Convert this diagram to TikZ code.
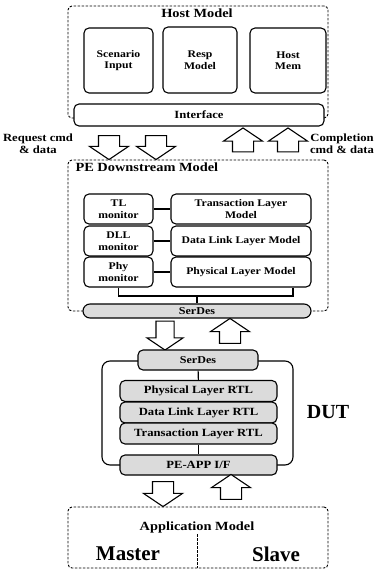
\documentclass[tikz,border=0pt]{standalone}
\usepackage{fontspec}
\setmainfont{Liberation Serif}
\newfontfamily\widefont{Liberation Serif}[FakeStretch=1.15]
\usetikzlibrary{shapes.arrows}
\begin{document}
\begin{tikzpicture}[x=1pt,y=-1pt,
  model/.style={draw, dashed, line width=0.9pt, dash pattern=on 2.5pt off 1.5pt, rounded corners=4pt},
  blk/.style={draw, line width=1.1pt, rounded corners=5pt, fill=white, align=center, inner sep=1pt, font=\widefont\bfseries\fontsize{10.2}{11.5}\selectfont},
  rtl/.style={blk, fill=gray!28, font=\widefont\bfseries\fontsize{11}{12}\selectfont},
  bigarrow/.style={single arrow, draw, line width=1.1pt, fill=white, inner xsep=0pt, inner ysep=10pt, single arrow head extend=9pt, single arrow tip angle=112, minimum height=24pt},
  lbl/.style={align=center, font=\widefont\bfseries\fontsize{11}{12}\selectfont},
  ttl/.style={font=\widefont\bfseries\fontsize{12.5}{14}\selectfont}]
\useasboundingbox (0,0) rectangle (377,572);
\node[model, minimum width=260pt, minimum height=112pt] (host) at (198,62){};
\node[ttl] (hostttl) at (197,13){Host Model};
\node[blk, minimum width=69pt, minimum height=65pt] (scen) at (118.5,60.5){Scenario\\Input};
\node[blk, minimum width=74pt, minimum height=66pt] (resp) at (200,60){Resp\\Model};
\node[blk, minimum width=76pt, minimum height=65pt] (hmem) at (288,60.5){Host\\Mem};
\node[blk, minimum width=250pt, minimum height=22pt, font=\widefont\bfseries\fontsize{11}{12}\selectfont] (iface) at (199,115){Interface};
\node[lbl] (reqlbl) at (38,144){Request cmd\\\& data};
\node[lbl] (cpllbl) at (342,144){Completion\\cmd \& data};
\node[bigarrow, rotate=-90] (req1) at (109,144){};
\node[bigarrow, rotate=-90] (req2) at (156,144){};
\node[bigarrow, rotate=90] (cpl1) at (243,143.5){};
\node[bigarrow, rotate=90] (cpl2) at (288,143.5){};
\node[model, minimum width=260pt, minimum height=151pt] (pe) at (198,235.5){};
\node[ttl, anchor=west] (pettl) at (72,167){PE Downstream Model};
\node[blk, minimum width=69pt, minimum height=30pt] (tlmon) at (118.5,209){TL\\monitor};
\node[blk, minimum width=69pt, minimum height=30pt] (dllmon) at (118.5,241){DLL\\monitor};
\node[blk, minimum width=69pt, minimum height=30pt] (phymon) at (118.5,272){Phy\\monitor};
\node[blk, minimum width=140pt, minimum height=30pt] (tlmod) at (241,209){Transaction Layer\\Model};
\node[blk, minimum width=140pt, minimum height=30pt] (dllmod) at (241,241){Data Link Layer Model};
\node[blk, minimum width=140pt, minimum height=30pt] (phymod) at (241,272){Physical Layer Model};
\draw[line width=1.1pt] (tlmon) -- (tlmod);
\draw[line width=1.1pt] (dllmon) -- (dllmod);
\draw[line width=1.1pt] (phymon) -- (phymod);
\node[rtl, minimum width=228pt, minimum height=14pt, rounded corners=7pt, font=\widefont\bfseries\fontsize{10.5}{11}\selectfont] (pserdes) at (197,311){SerDes};
\coordinate (busl) at (118.5,296);
\coordinate (busr) at (293,296);
\coordinate (busm) at (197,296);
\draw[line width=1.1pt] (phymon.south) -- (busl) -- (busr) -- (busr |- phymod.south);
\draw[line width=1.1pt] (busm) -- (pserdes.north);
\node[bigarrow, rotate=-90, minimum height=29pt, inner ysep=8.5pt] (dn1) at (165,332.5){};
\node[bigarrow, rotate=90, minimum height=25pt] (up1) at (230,334.5){};
\draw[line width=1.1pt, rounded corners=8pt] (102,361) rectangle (293,465);
\node[rtl, minimum width=120pt, minimum height=20pt, font=\widefont\bfseries\fontsize{10.5}{11}\selectfont] (dserdes) at (198,360){SerDes};
\node[rtl, minimum width=157pt, minimum height=21pt] (physrtl) at (198.5,391){Physical Layer RTL};
\node[rtl, minimum width=157pt, minimum height=21pt] (dllrtl) at (198.5,412.5){Data Link Layer RTL};
\node[rtl, minimum width=157pt, minimum height=21pt] (tlrtl) at (198.5,433.5){Transaction Layer RTL};
\node[rtl, minimum width=157pt, minimum height=20pt] (peapp) at (198.5,465){PE-APP I/F};
\draw[line width=1.1pt] (dserdes) -- (physrtl);
\draw[line width=1.1pt] (tlrtl) -- (peapp);
\node[font=\bfseries\fontsize{20}{22}\selectfont] (dut) at (328,412){DUT};
\node[bigarrow, rotate=-90, minimum height=25pt] (dn2) at (163,490.5){};
\node[bigarrow, rotate=90, minimum height=25pt] (up2) at (231,490.5){};
\node[model, minimum width=260pt, minimum height=61pt] (app) at (198,537.5){};
\node[ttl] (appttl) at (197,527){Application Model};
\coordinate (divtop) at (197,534);
\draw[dashed, line width=0.9pt, dash pattern=on 2.5pt off 1.5pt] (divtop) -- (divtop |- app.south);
\node[font=\bfseries\fontsize{21}{24}\selectfont] (master) at (128,554){Master};
\node[font=\bfseries\fontsize{21}{24}\selectfont] (slave) at (276,554){Slave};
\end{tikzpicture}
\end{document}
